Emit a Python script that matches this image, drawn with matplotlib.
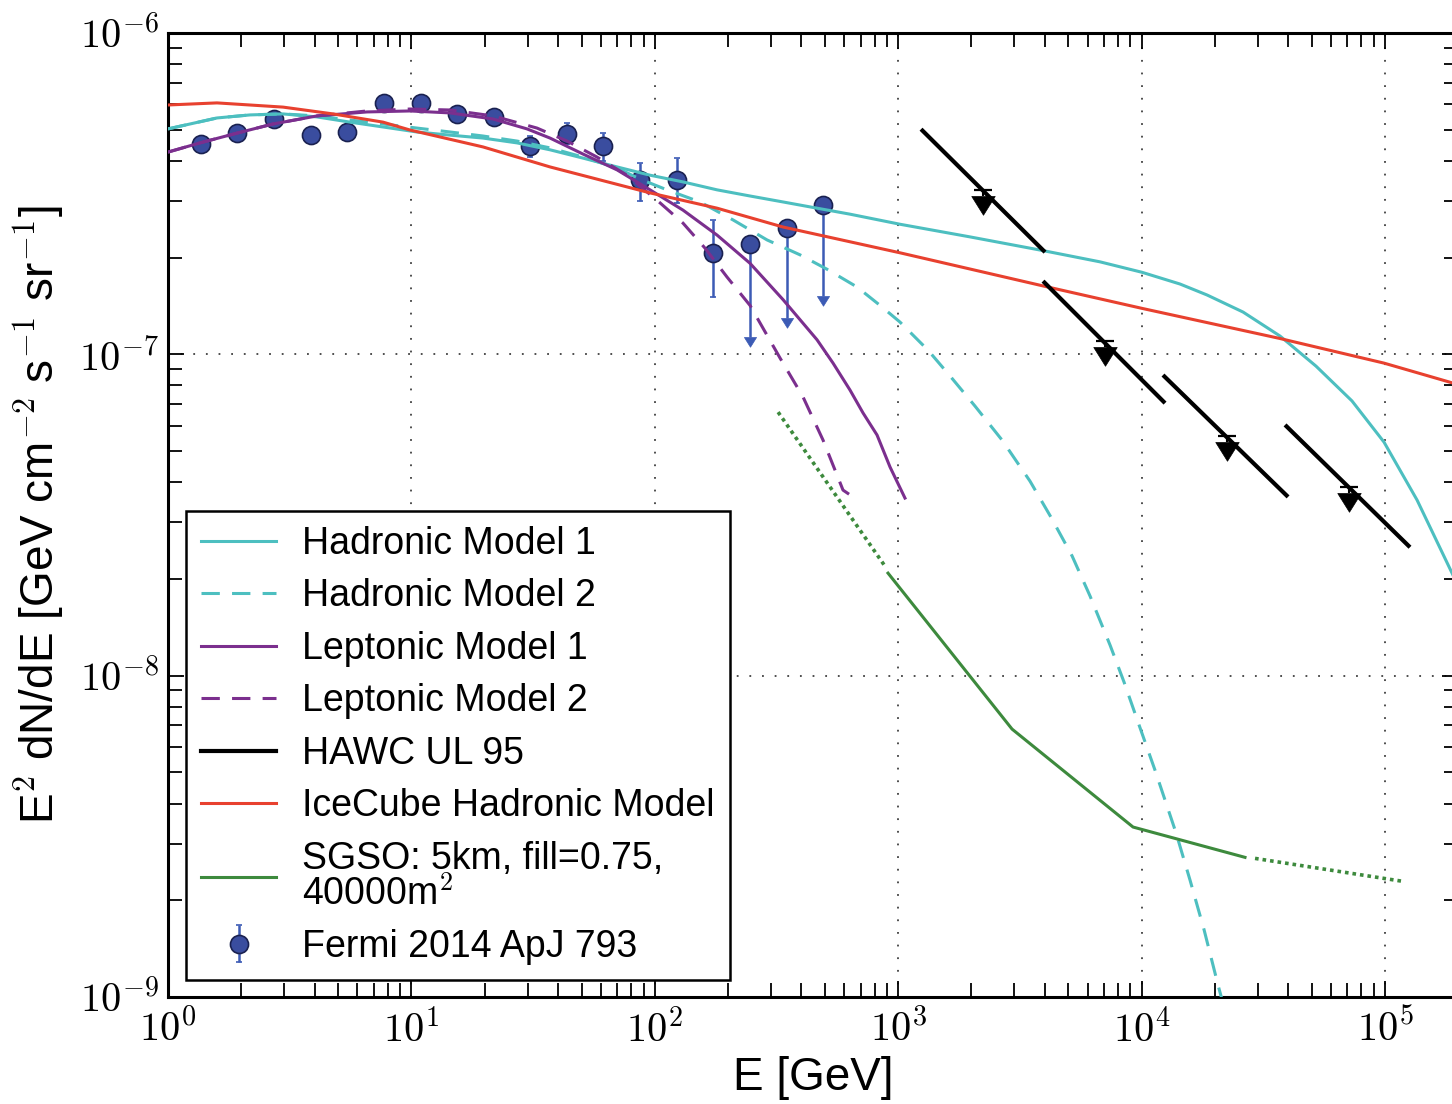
import numpy as np
import matplotlib
matplotlib.use("Agg")
import matplotlib.pyplot as plt
from matplotlib.ticker import LogLocator, FixedLocator, FuncFormatter, NullFormatter
from matplotlib.lines import Line2D
from matplotlib.path import Path

plt.rcParams["font.family"] = ["Liberation Sans", "DejaVu Sans"]
plt.rcParams["mathtext.fontset"] = "cm"

# ---------------- data ----------------
# Fermi-LAT spectral points (E in GeV, E^2 dN/dE)
fermi_E = [1.366, 1.921, 2.726, 3.869, 5.437, 7.717, 10.95, 15.39, 21.85,
           30.71, 43.59, 61.27, 86.96, 123.4, 173.4, 246.1, 349.2, 490.9]
fermi_F = [4.50e-7, 4.89e-7, 5.40e-7, 4.81e-7, 4.93e-7, 6.04e-7, 6.04e-7, 5.58e-7, 5.49e-7,
           4.45e-7, 4.84e-7, 4.45e-7, 3.49e-7, 3.49e-7, 2.07e-7, 2.21e-7, 2.47e-7, 2.91e-7]
fermi_lo = [4.34e-7, 4.72e-7, 5.20e-7, 4.63e-7, 4.73e-7, 5.80e-7, 5.79e-7, 5.33e-7, 5.22e-7,
            4.11e-7, 4.51e-7, 4.00e-7, 3.00e-7, 2.96e-7, 1.51e-7, 1.13e-7, 1.30e-7, 1.52e-7]
fermi_hi = [4.67e-7, 5.07e-7, 5.60e-7, 5.01e-7, 5.14e-7, 6.30e-7, 6.31e-7, 5.85e-7, 5.77e-7,
            4.78e-7, 5.25e-7, 4.88e-7, 3.94e-7, 4.08e-7, 2.62e-7, 2.21e-7, 2.47e-7, 2.91e-7]
fermi_ul = [False] * 15 + [True] * 3

# Hadronic model 1
had1_E = [1.00, 1.590, 2.173, 2.969, 4.095, 5.594, 7.643, 10.54, 14.41, 19.69, 27.16, 37.11,
          50.70, 69.96, 95.56, 130.6, 180.2, 246.1, 336.3, 463.9, 633.9, 1017, 1972, 3972,
          6748, 10040, 14380, 18570, 26100, 37040, 52050, 73160, 99060, 135400, 183300,
          203300]
had1_F = [5.03e-7, 5.44e-7, 5.56e-7, 5.60e-7, 5.48e-7, 5.28e-7, 5.10e-7, 4.92e-7, 4.81e-7,
          4.71e-7, 4.55e-7, 4.33e-7, 4.08e-7, 3.83e-7, 3.61e-7, 3.44e-7, 3.25e-7, 3.11e-7,
          2.98e-7, 2.85e-7, 2.73e-7, 2.54e-7, 2.32e-7, 2.10e-7, 1.94e-7, 1.80e-7, 1.655e-7,
          1.53e-7, 1.354e-7, 1.14e-7, 9.19e-8, 7.16e-8, 5.33e-8, 3.52e-8, 2.18e-8, 1.85e-8]

# Hadronic model 2
had2_E = [1.00, 1.590, 2.173, 2.969, 4.095, 5.594, 7.643, 10.54, 14.41, 19.69, 27.16, 37.11,
          50.70, 69.96, 86.96, 112.2, 153.4, 209.6, 289.1, 395.0, 509.9, 677.4, 842.1, 1017,
          1326, 1648, 2068, 2670, 3479, 4245, 5178, 6138, 7418, 8468, 9666, 11350, 13850,
          15810, 18050, 20600, 21400]
had2_F = [5.03e-7, 5.44e-7, 5.56e-7, 5.60e-7, 5.52e-7, 5.36e-7, 5.21e-7, 5.06e-7, 4.92e-7,
          4.78e-7, 4.61e-7, 4.39e-7, 4.11e-7, 3.80e-7, 3.51e-7, 3.25e-7, 2.98e-7, 2.62e-7,
          2.27e-7, 2.04e-7, 1.84e-7, 1.62e-7, 1.42e-7, 1.26e-7, 1.03e-7, 8.49e-8, 6.90e-8,
          5.41e-8, 4.03e-8, 3.11e-8, 2.36e-8, 1.77e-8, 1.245e-8, 9.55e-9, 7.17e-9, 5.08e-9,
          3.24e-9, 2.31e-9, 1.62e-9, 1.09e-9, 9.8e-10]

# Leptonic model 1
lep1_E = [1.00, 1.354, 1.921, 2.700, 4.095, 6.571, 9.869, 14.41, 21.64, 29.85, 37.11, 50.70,
          69.96, 95.56, 130.6, 180.2, 246.1, 336.3, 463.9, 539.8, 633.9, 716.9, 818.4, 925.5,
          1066]
lep1_F = [4.26e-7, 4.55e-7, 4.88e-7, 5.21e-7, 5.52e-7, 5.68e-7, 5.72e-7, 5.64e-7, 5.40e-7,
          5.03e-7, 4.71e-7, 4.20e-7, 3.75e-7, 3.25e-7, 2.81e-7, 2.35e-7, 1.92e-7, 1.48e-7,
          1.11e-7, 9.39e-8, 7.74e-8, 6.57e-8, 5.61e-8, 4.46e-8, 3.57e-8]

# Leptonic model 2
lep2_E = [1.00, 1.354, 1.921, 2.700, 4.095, 6.571, 9.869, 14.41, 21.64, 32.81, 43.59, 57.89,
          76.88, 105.1, 130.6, 160.8, 198.0, 246.1, 326.9, 406.3, 491.0, 593.2, 628.1]
lep2_F = [4.26e-7, 4.55e-7, 4.88e-7, 5.21e-7, 5.52e-7, 5.72e-7, 5.80e-7, 5.76e-7, 5.52e-7,
          5.06e-7, 4.61e-7, 4.11e-7, 3.61e-7, 2.96e-7, 2.56e-7, 2.14e-7, 1.74e-7, 1.42e-7,
          9.74e-8, 7.37e-8, 5.41e-8, 3.78e-8, 3.67e-8]

# IceCube hadronic model
ice_E = [1.00, 1.590, 2.969, 4.763, 7.643, 9.869, 19.69, 37.11, 95.56, 180.2, 336.3, 633.9,
         1017, 3972, 10040, 37040, 99060, 203300]
ice_F = [5.97e-7, 6.06e-7, 5.88e-7, 5.60e-7, 5.28e-7, 4.99e-7, 4.42e-7, 3.83e-7, 3.18e-7,
         2.85e-7, 2.49e-7, 2.24e-7, 2.07e-7, 1.63e-7, 1.39e-7, 1.12e-7, 9.39e-8, 8.02e-8]

# SGSO sensitivity (solid core, dotted extensions)
sgso_E = [908, 2935, 9220, 26590]
sgso_F = [2.085e-8, 6.82e-9, 3.38e-9, 2.72e-9]
sgso_low_E = [321, 883]
sgso_low_F = [6.61e-8, 2.19e-8]
sgso_high_E = [29240, 118600]
sgso_high_F = [2.70e-9, 2.29e-9]

# HAWC 95% upper limits: bin segments, plus UL markers
hawc_E_lo = [1241, 3935, 12240, 38840]
hawc_E_hi = [4010, 12480, 39960, 126640]
hawc_F_lo = [5.02e-7, 1.69e-7, 8.62e-8, 6.03e-8]
hawc_F_hi = [2.08e-7, 7.05e-8, 3.60e-8, 2.51e-8]
hawc_E = [2240, 7080, 22400, 70800]
hawc_F = [3.245e-7, 1.103e-7, 5.57e-8, 3.86e-8]
hawc_base = [3.11e-7, 1.054e-7, 5.33e-8, 3.70e-8]

labels = ["Hadronic Model 1", "Hadronic Model 2", "Leptonic Model 1", "Leptonic Model 2",
          "HAWC UL 95", "IceCube Hadronic Model", "SGSO: 5km, fill=0.75,\n40000m$^2$",
          "Fermi 2014 ApJ 793"]

# axis decades
x_decades = [0, 1, 2, 3, 4, 5]
y_decades = [-9, -8, -7, -6]

# ---------------- styles ----------------
c_had = "#4dbfc0"
c_lep = "#7b2f8e"
c_ice = "#e8412f"
c_sgso = "#3d8a3d"
c_fermi = "#3a4d9f"
c_ferr = "#3c5bb5"

# downward arrow head whose flat base sits on the data point
arrow = Path([(-1.0, 0.0), (1.0, 0.0), (0.0, -1.6), (-1.0, 0.0)],
             [Path.MOVETO, Path.LINETO, Path.LINETO, Path.CLOSEPOLY])

fig = plt.figure(figsize=(14.52, 11.04), dpi=100)
ax = fig.add_axes([168 / 1452, 107 / 1104, 1290.3 / 1452, 964 / 1104])
ax.set_xscale("log")
ax.set_yscale("log")
ax.set_xlim(1, 2e5)
ax.set_ylim(1e-9, 1e-6)

# Fermi points
fE = np.array(fermi_E)
fF = np.array(fermi_F)
flo = np.array(fermi_lo)
fhi = np.array(fermi_hi)
ful = np.array(fermi_ul)
det = ~ful
fermi_h = ax.errorbar(fE[det], fF[det], yerr=[fF[det] - flo[det], fhi[det] - fF[det]],
                      fmt="o", ms=13, mfc=c_fermi, mec="#1a2150", mew=1.2,
                      ecolor=c_ferr, elinewidth=1.8, capsize=2.5, capthick=1.5, zorder=2)
ax.errorbar(fE[ful], fF[ful], yerr=[fF[ful] - flo[ful], np.zeros(ful.sum())],
            fmt="o", ms=13, mfc=c_fermi, mec="#1a2150", mew=1.2,
            ecolor=c_ferr, elinewidth=1.8, capsize=0, zorder=2)
ax.plot(fE[ful], flo[ful], ls="none", marker=arrow, ms=14, mfc=c_ferr, mec=c_ferr,
        mew=0.5, zorder=2)

# model curves
ax.plot(had1_E, had1_F, color=c_had, lw=2.2, zorder=3)
ax.plot(had2_E, had2_F, color=c_had, lw=2.2, ls=(0, (6, 4)), zorder=3)
ax.plot(lep1_E, lep1_F, color=c_lep, lw=2.2, zorder=3)
ax.plot(lep2_E, lep2_F, color=c_lep, lw=2.2, ls=(0, (6, 4)), zorder=3)
ax.plot(ice_E, ice_F, color=c_ice, lw=2.2, zorder=3)
ax.plot(sgso_E, sgso_F, color=c_sgso, lw=2.2, zorder=3)
ax.plot(sgso_low_E, sgso_low_F, color=c_sgso, lw=2.6, ls=(0, (1, 1.1)), zorder=3)
ax.plot(sgso_high_E, sgso_high_F, color=c_sgso, lw=2.6, ls=(0, (1, 1.1)), zorder=3)

# HAWC segments and upper limits
for e0, e1, f0, f1 in zip(hawc_E_lo, hawc_E_hi, hawc_F_lo, hawc_F_hi):
    ax.plot([e0, e1], [f0, f1], color="k", lw=3, solid_capstyle="butt", zorder=4)
hF = np.array(hawc_F)
hB = np.array(hawc_base)
ax.errorbar(hawc_E, hawc_F, yerr=[hF - hB, np.zeros(len(hF))], fmt="none",
            ecolor="k", elinewidth=1.5, capsize=0, zorder=4)
ax.plot(hawc_E, hawc_F, ls="none", marker="_", ms=13, mew=1.6, color="k", zorder=4)
ax.plot(hawc_E, hawc_base, ls="none", marker=arrow, ms=27, mfc="k", mec="k", mew=0.5,
        zorder=4)

# axes styling
ax.grid(True, which="major", color="0.25", ls=(0, (1, 6)), lw=1.3)
ax.set_axisbelow(True)
for sp in ax.spines.values():
    sp.set_linewidth(2.2)

ax.xaxis.set_major_locator(FixedLocator([10.0 ** d for d in x_decades]))
ax.yaxis.set_major_locator(FixedLocator([10.0 ** d for d in y_decades]))
ax.xaxis.set_minor_locator(LogLocator(base=10, subs=np.arange(2, 10), numticks=40))
ax.yaxis.set_minor_locator(LogLocator(base=10, subs=np.arange(2, 10), numticks=40))
fmt = FuncFormatter(lambda v, p: r"$\mathrm{10^{%d}}$" % int(round(np.log10(v))))
ax.xaxis.set_major_formatter(fmt)
ax.yaxis.set_major_formatter(fmt)
ax.xaxis.set_minor_formatter(NullFormatter())
ax.yaxis.set_minor_formatter(NullFormatter())
ax.tick_params(which="both", direction="in", top=True, right=True)
ax.tick_params(which="major", length=11.5, width=1.3, labelsize=29)
ax.tick_params(which="minor", length=10, width=1.3)
ax.tick_params(axis="x", pad=9)
ax.tick_params(axis="y", pad=7)

ax.set_xlabel("E [GeV]", fontsize=33)
ax.set_ylabel(r"E$^{\mathrm{2}}$ dN/dE [GeV cm$^{\mathrm{-2}}$ s$^{\mathrm{-1}}$ sr$^{\mathrm{-1}}$]",
              fontsize=33)
ax.xaxis.set_label_coords(0.5, -0.061, transform=ax.transAxes)
ax.yaxis.set_label_coords(-0.079, 0.5, transform=ax.transAxes)

# legend
handles = [
    Line2D([], [], color=c_had, lw=2.2),
    Line2D([], [], color=c_had, lw=2.2, ls=(0, (6, 4))),
    Line2D([], [], color=c_lep, lw=2.2),
    Line2D([], [], color=c_lep, lw=2.2, ls=(0, (6, 4))),
    Line2D([], [], color="k", lw=3),
    Line2D([], [], color=c_ice, lw=2.2),
    Line2D([], [], color=c_sgso, lw=2.2),
    fermi_h,
]
leg = ax.legend(handles, labels, loc="lower left", bbox_to_anchor=(0.014, 0.018),
                borderaxespad=0, fontsize=27, frameon=True, fancybox=False,
                framealpha=1, edgecolor="k", labelspacing=0.44, handlelength=2.0,
                handletextpad=0.7, borderpad=0.4, numpoints=1)
leg.get_frame().set_linewidth(1.8)
for t in leg.get_texts():
    t.set_linespacing(0.95)

fig.savefig("out.png", dpi=100)
